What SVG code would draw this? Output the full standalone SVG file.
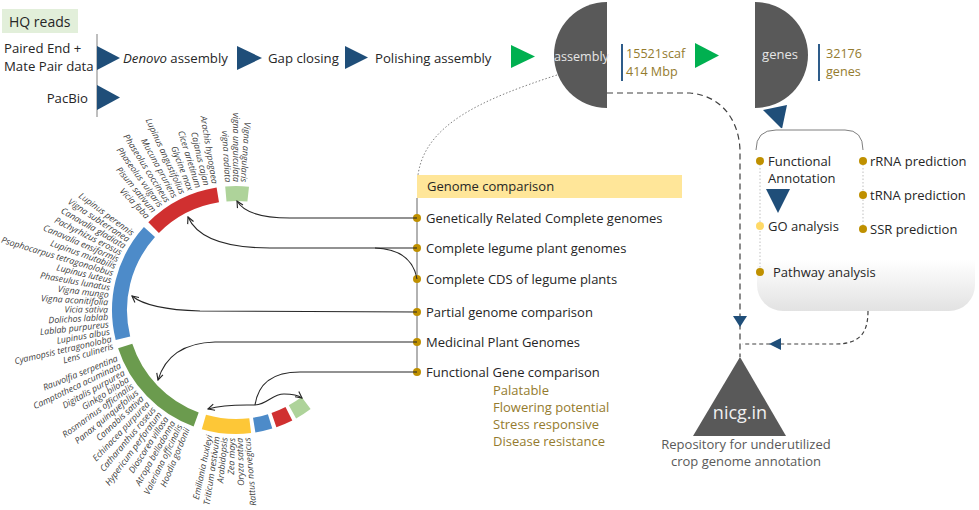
<svg xmlns="http://www.w3.org/2000/svg" width="979" height="510" viewBox="0 0 979 510">
<defs>
<style>
.t{font-family:"Open Sans","Noto Sans","DejaVu Sans",sans-serif;font-size:13px;fill:#262626}
.top{font-size:13.2px}
.gold{fill:#947b2e}
.sp{font-family:"Open Sans","Liberation Sans",sans-serif;font-style:italic;font-size:8.8px;fill:#404040;text-anchor:end}
.tri{fill:#1f4e79}
.gtri{fill:#00b050}
.dot{fill:#bf9000}
.con{fill:none;stroke:#262626;stroke-width:1.1}
.dash{fill:none;stroke:#404040;stroke-width:1.2;stroke-dasharray:6 4}
</style>
<marker id="arr" viewBox="0 0 10 10" refX="9" refY="5" markerWidth="8" markerHeight="8" markerUnits="userSpaceOnUse" orient="auto-start-reverse">
<path d="M1,1 L9,5 L1,9" fill="none" stroke="#262626" stroke-width="1.4"/>
</marker>
<linearGradient id="pg" x1="0" y1="0" x2="0" y2="1">
<stop offset="0" stop-color="#ffffff"/>
<stop offset="0.72" stop-color="#ffffff"/>
<stop offset="1" stop-color="#e2e2e2"/>
</linearGradient>
</defs>
<rect width="979" height="510" fill="#ffffff"/>

<g id="hq-reads">
<rect x="2" y="9" width="76" height="24" fill="#e2efda"/>
<text class="t" x="9" y="27" style="font-size:14px">HQ reads</text>
<line x1="97" y1="34" x2="97" y2="117" stroke="#7f7f7f" stroke-width="1"/>
<text class="t top" x="4" y="53">Paired End +</text>
<text class="t top" x="4" y="71">Mate Pair data</text>
<text class="t top" x="88" y="103" text-anchor="end">PacBio</text>
</g>

<g id="pipeline">
<polygon class="tri" points="97,46 120,58 97,70"/>
<polygon class="tri" points="97,85 120,97.5 97,110"/>
<text class="t top" x="123" y="63"><tspan font-style="italic">Denovo</tspan> assembly</text>
<polygon class="tri" points="237,46 262,58 237,70"/>
<text class="t top" x="268" y="63">Gap closing</text>
<polygon class="tri" points="345,46 368,57.5 345,69"/>
<text class="t top" x="375" y="63">Polishing assembly</text>
<polygon class="gtri" points="511,45 535,56.5 511,68"/>
</g>

<g id="assembly">
<path d="M607,2 A53,53 0 0 0 607,108 Z" fill="#595959"/>
<text class="t" x="554" y="61" style="fill:#e6e6e6;font-size:12.6px">assembly</text>
<line x1="622" y1="44" x2="622" y2="81" stroke="#2e5c8a" stroke-width="2"/>
<text class="t gold" x="626" y="58" style="font-size:12.6px">15521scaf</text>
<text class="t gold" x="626" y="76" style="font-size:12.6px">414 Mbp</text>
</g>

<polygon class="gtri" points="695,43 719,55.5 695,68"/>

<g id="genes">
<path d="M755,2 A53,53 0 0 1 755,108 Z" fill="#595959"/>
<text class="t" x="780" y="59" text-anchor="middle" style="fill:#e6e6e6;font-size:13px">genes</text>
<line x1="819" y1="44" x2="819" y2="81" stroke="#2e5c8a" stroke-width="2"/>
<text class="t gold" x="826" y="58" style="font-size:12.6px">32176</text>
<text class="t gold" x="826" y="76" style="font-size:12.6px">genes</text>
<polygon class="tri" points="763,110 787,105 782,129"/>
</g>

<g id="annotation-panel">
<rect x="757" y="128" width="218" height="183" rx="26" fill="url(#pg)"/>
<path d="M756,150 Q756,130 776,130 L845,130 Q863,130 863,150" fill="none" stroke="#7f7f7f" stroke-width="1"/>
<line x1="760" y1="161" x2="760" y2="272" stroke="#bfbfbf" stroke-width="1" stroke-dasharray="1.5 2"/>
<line x1="863" y1="161" x2="863" y2="229" stroke="#bfbfbf" stroke-width="1" stroke-dasharray="1.5 2"/>
<circle class="dot" cx="760" cy="161" r="4"/>
<text class="t" x="768" y="166">Functional</text>
<text class="t" x="768" y="183">Annotation</text>
<polygon class="tri" points="766,189 790,189 778,213"/>
<circle cx="760" cy="226" r="4" fill="#ffd966"/>
<text class="t" x="768" y="231">GO analysis</text>
<circle class="dot" cx="760" cy="272" r="4"/>
<text class="t" x="773" y="277">Pathway analysis</text>
<circle class="dot" cx="863" cy="161" r="4"/>
<text class="t" x="870" y="166">rRNA prediction</text>
<circle class="dot" cx="863" cy="195" r="4"/>
<text class="t" x="870" y="200">tRNA prediction</text>
<circle class="dot" cx="863" cy="229" r="4"/>
<text class="t" x="870" y="234">SSR prediction</text>
</g>

<g id="nicg">
<polygon points="740,357 693,436 786,436" fill="#595959"/>
<text class="t" x="740" y="419" text-anchor="middle" style="fill:#f0f0f0;font-size:18px">nicg.in</text>
<text class="t" x="746" y="449" text-anchor="middle" style="fill:#595959">Repository for underutilized</text>
<text class="t" x="746" y="466" text-anchor="middle" style="fill:#595959">crop genome annotation</text>
</g>

<g id="genome-comparison">
<rect x="417" y="175" width="265" height="23" fill="#ffe699"/>
<text class="t" x="427" y="191">Genome comparison</text>
<line x1="417" y1="198" x2="417" y2="372" stroke="#7f7f7f" stroke-width="1.2"/>
<circle class="dot" cx="417" cy="218" r="4"/>
<text class="t" x="426" y="223">Genetically Related Complete genomes</text>
<circle class="dot" cx="417" cy="248" r="4"/>
<text class="t" x="426" y="253">Complete legume plant genomes</text>
<circle class="dot" cx="417" cy="279" r="4"/>
<text class="t" x="426" y="284">Complete CDS of legume plants</text>
<circle class="dot" cx="417" cy="312" r="4"/>
<text class="t" x="426" y="317">Partial genome comparison</text>
<circle class="dot" cx="417" cy="342" r="4"/>
<text class="t" x="426" y="347">Medicinal Plant Genomes</text>
<circle class="dot" cx="417" cy="372" r="4"/>
<text class="t" x="426" y="377">Functional Gene comparison</text>
<text class="t gold" x="493" y="395">Palatable</text>
<text class="t gold" x="493" y="412">Flowering potential</text>
<text class="t gold" x="493" y="429">Stress responsive</text>
<text class="t gold" x="493" y="446">Disease resistance</text>
</g>

<g id="ring">
<path d="M225.2,186.5 A124,124 0 0 1 249.0,186.7 L247.4,201.6 A109,109 0 0 0 226.5,201.4 Z" fill="#aed39a"/>
<path d="M148.3,222.3 A124,124 0 0 1 216.6,187.5 L219.0,202.3 A109,109 0 0 0 158.9,232.9 Z" fill="#d03030"/>
<path d="M115.7,340.0 A124,124 0 0 1 143.9,227.0 L155.0,237.1 A109,109 0 0 0 130.2,336.4 Z" fill="#4d8bc9"/>
<path d="M193.6,426.5 A124,124 0 0 1 118.1,348.3 L132.3,343.7 A109,109 0 0 0 198.7,412.4 Z" fill="#6b9b4e"/>
<path d="M251.1,433.1 A124,124 0 0 1 201.8,429.2 L206.0,414.8 A109,109 0 0 0 249.3,418.2 Z" fill="#fdc737"/>
<path d="M272.3,428.6 A124,124 0 0 1 255.4,432.5 L253.0,417.7 A109,109 0 0 0 267.9,414.2 Z" fill="#4d8bc9"/>
<path d="M292.3,420.5 A124,124 0 0 1 276.4,427.2 L271.5,413.1 A109,109 0 0 0 285.5,407.1 Z" fill="#d03030"/>
<path d="M310.6,409.0 A124,124 0 0 1 296.1,418.5 L288.8,405.3 A109,109 0 0 0 301.6,397.0 Z" fill="#aed39a"/>
<g transform="translate(236 310)">
<text class="sp" dy="0.35em" transform="rotate(93.5) translate(-128 0)">Vigna angularis</text>
<text class="sp" dy="0.35em" transform="rotate(90) translate(-128 0)">vigna unguiculata</text>
<text class="sp" dy="0.35em" transform="rotate(86.5) translate(-128 0)">vigna radiata</text>
<text class="sp" dy="0.35em" transform="rotate(80.5) translate(-128 0)">Arachis hypogaea</text>
<text class="sp" dy="0.35em" transform="rotate(76.7) translate(-128 0)">Cajanus cajan</text>
<text class="sp" dy="0.35em" transform="rotate(72.9) translate(-128 0)">Cicer arietinum</text>
<text class="sp" dy="0.35em" transform="rotate(69.2) translate(-128 0)">Glycine max</text>
<text class="sp" dy="0.35em" transform="rotate(65.4) translate(-128 0)">Lupinus angustifolius</text>
<text class="sp" dy="0.35em" transform="rotate(61.6) translate(-128 0)">Mucuna pruriens</text>
<text class="sp" dy="0.35em" transform="rotate(57.8) translate(-128 0)">Phaseolus coccineus</text>
<text class="sp" dy="0.35em" transform="rotate(54.1) translate(-128 0)">Phaseolus vulgaris</text>
<text class="sp" dy="0.35em" transform="rotate(50.3) translate(-128 0)">Pisum sativum</text>
<text class="sp" dy="0.35em" transform="rotate(46.5) translate(-128 0)">Vicia faba</text>
<text class="sp" dy="0.35em" transform="rotate(36.5) translate(-128 0)">Lupinus perennis</text>
<text class="sp" dy="0.35em" transform="rotate(33.2) translate(-128 0)">Vigna subterranea</text>
<text class="sp" dy="0.35em" transform="rotate(29.9) translate(-128 0)">Canavalia gladiata</text>
<text class="sp" dy="0.35em" transform="rotate(26.6) translate(-128 0)">Pachyrhizus erosus</text>
<text class="sp" dy="0.35em" transform="rotate(23.3) translate(-128 0)">Canavalia ensiformis</text>
<text class="sp" dy="0.35em" transform="rotate(20) translate(-128 0)">Lupinus mutabilis</text>
<text class="sp" dy="0.35em" transform="rotate(16.7) translate(-128 0)">Psophocarpus tetragonolobus</text>
<text class="sp" dy="0.35em" transform="rotate(13.4) translate(-128 0)">Lupinus luteus</text>
<text class="sp" dy="0.35em" transform="rotate(10.1) translate(-128 0)">Phaseulus lunatus</text>
<text class="sp" dy="0.35em" transform="rotate(6.8) translate(-128 0)">Vigna mungo</text>
<text class="sp" dy="0.35em" transform="rotate(3.5) translate(-128 0)">Vigna aconitifolia</text>
<text class="sp" dy="0.35em" transform="rotate(0.2) translate(-128 0)">Vicia sativa</text>
<text class="sp" dy="0.35em" transform="rotate(-3.1) translate(-128 0)">Dolichos lablab</text>
<text class="sp" dy="0.35em" transform="rotate(-6.4) translate(-128 0)">Lablab purpureus</text>
<text class="sp" dy="0.35em" transform="rotate(-9.7) translate(-128 0)">Lupinus albus</text>
<text class="sp" dy="0.35em" transform="rotate(-13) translate(-128 0)">Cyamopsis tetragonoloba</text>
<text class="sp" dy="0.35em" transform="rotate(-16.3) translate(-128 0)">Lens culineris</text>
<text class="sp" dy="0.35em" transform="rotate(-22) translate(-128 0)">Rauvolfia serpentina</text>
<text class="sp" dy="0.35em" transform="rotate(-25.5) translate(-128 0)">Camptotheca acuminata</text>
<text class="sp" dy="0.35em" transform="rotate(-29) translate(-128 0)">Digitalis purpurea</text>
<text class="sp" dy="0.35em" transform="rotate(-32.5) translate(-128 0)">Ginkgo biloba</text>
<text class="sp" dy="0.35em" transform="rotate(-36) translate(-128 0)">Rosmarinus officinalis</text>
<text class="sp" dy="0.35em" transform="rotate(-39.5) translate(-128 0)">Panax quinquefolius</text>
<text class="sp" dy="0.35em" transform="rotate(-43) translate(-128 0)">Cannabis sativa</text>
<text class="sp" dy="0.35em" transform="rotate(-46.5) translate(-128 0)">Echinacea purpurea</text>
<text class="sp" dy="0.35em" transform="rotate(-50) translate(-128 0)">Catharanthus roseus</text>
<text class="sp" dy="0.35em" transform="rotate(-53.5) translate(-128 0)">Hypericum perforatum</text>
<text class="sp" dy="0.35em" transform="rotate(-57) translate(-128 0)">Dioscorea villosa</text>
<text class="sp" dy="0.35em" transform="rotate(-60.5) translate(-128 0)">Atropa belladonna</text>
<text class="sp" dy="0.35em" transform="rotate(-64) translate(-128 0)">Valeriana officinalis</text>
<text class="sp" dy="0.35em" transform="rotate(-67.5) translate(-128 0)">Hoodia gordonii</text>
<text class="sp" dy="0.35em" transform="rotate(-78) translate(-128 0)">Emiliania huxleyi</text>
<text class="sp" dy="0.35em" transform="rotate(-81.4) translate(-128 0)">Triticum aestivum</text>
<text class="sp" dy="0.35em" transform="rotate(-84.8) translate(-128 0)">Arabidopsis</text>
<text class="sp" dy="0.35em" transform="rotate(-88.2) translate(-128 0)">Zea mays</text>
<text class="sp" dy="0.35em" transform="rotate(-91.6) translate(-128 0)">Oryza sativa</text>
<text class="sp" dy="0.35em" transform="rotate(-95) translate(-128 0)">Rattus norvegicus</text>
</g>
</g>

<g id="connectors">
<path d="M557,75 C480,100 425,125 418,175" fill="none" stroke="#7f7f7f" stroke-width="1" stroke-dasharray="1.5 2"/>
<path class="dash" d="M607,93 L690,93 C725,96 740,125 740,152 L740,357"/>
<polygon class="tri" points="733,316 747,316 740,327"/>
<path d="M868,311 C868,335 858,344 835,344 L742,344" fill="none" stroke="#404040" stroke-width="1.2" stroke-dasharray="4 3"/>
<polygon class="tri" points="769,344 781,338 781,350"/>
<path class="con" d="M417,218 L290,218 C262,218 244,213 237,201" marker-end="url(#arr)"/>
<path class="con" d="M417,248 L270,248 C220,248 196,235 188,217" marker-end="url(#arr)"/>
<path class="con" d="M417,279 C414,262 402,249 375,248"/>
<path class="con" d="M417,312 L200,311 C165,310 143,305 132,296" marker-end="url(#arr)"/>
<path class="con" d="M417,342 L215,342 C180,343 164,360 158,380" marker-end="url(#arr)"/>
<path class="con" d="M417,372 L300,372 C270,372 258,385 255,405"/>
<path class="con" d="M208,409 C225,404 245,405 255,405 C268,404 272,394 284,394 C293,394 298,395 302,398" marker-start="url(#arr)" marker-end="url(#arr)"/>
</g>
</svg>
